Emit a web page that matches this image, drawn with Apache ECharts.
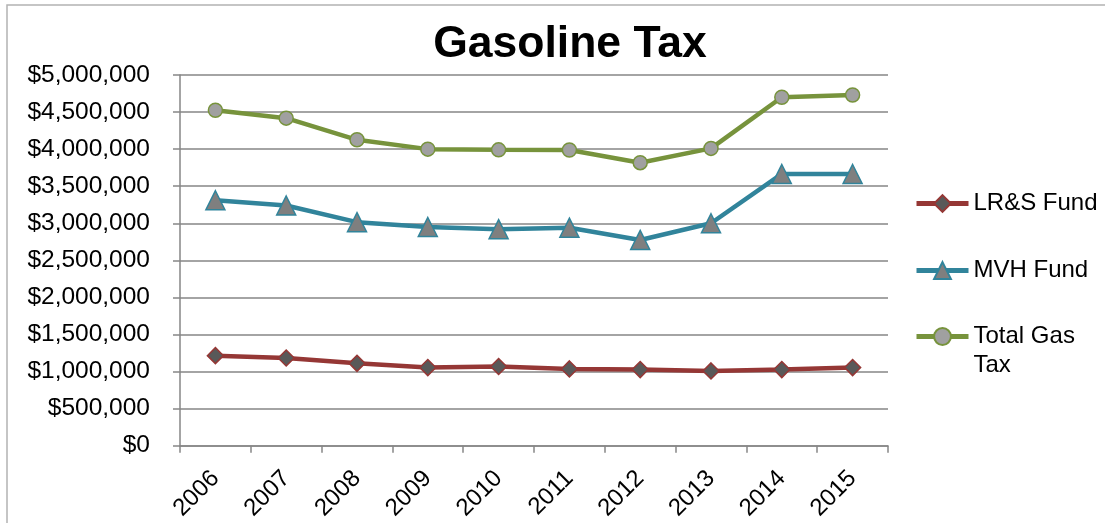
<!DOCTYPE html>
<html>
<head>
<meta charset="utf-8">
<script src="https://cdn.jsdelivr.net/npm/echarts@6/dist/echarts.min.js"></script>
<style>
html,body{margin:0;padding:0;background:#fff;}
#c{width:1105px;height:523px;}
</style>
</head>
<body>
<div id="c"></div>
<script>
var years = ['2006','2007','2008','2009','2010','2011','2012','2013','2014','2015'];
var lrsFund = [1214000, 1183000, 1110000, 1053000, 1068000, 1035000, 1026000, 1008000, 1026000, 1053000];
var mvhFund = [3310000, 3240000, 3015000, 2950000, 2920000, 2940000, 2775000, 3000000, 3665000, 3665000];
var totalGasTax = [4525000, 4418000, 4126000, 4000000, 3990000, 3988000, 3817000, 4010000, 4700000, 4730000];
var yTicks = [0, 500000, 1000000, 1500000, 2000000, 2500000, 3000000, 3500000, 4000000, 4500000, 5000000];

var FONT = '"Liberation Sans", Arial, sans-serif';
var chart = echarts.init(document.getElementById('c'), null, {renderer: 'canvas'});

function money(v) {
  return '$' + String(v).replace(/\B(?=(\d{3})+(?!\d))/g, ',');
}

var legendText = {fontFamily: FONT, fontSize: 24, color: '#000', lineHeight: 29};
function legendBase(name, top) {
  return {
    data: [name], orient: 'vertical', left: 914, top: top, padding: 0,
    itemWidth: 52, itemHeight: 21, itemGap: 0, textStyle: legendText, selectedMode: false,
    lineStyle: {width: 5},
    formatter: function(n){ return n === 'Total Gas Tax' ? ' \nTotal Gas\nTax' : n; }
  };
}

chart.setOption({
  animation: false,
  backgroundColor: '#fff',
  graphic: [{
    type: 'rect',
    shape: {x: 7, y: 5, width: 1200, height: 600},
    style: {fill: 'none', stroke: '#b3b3b3', lineWidth: 1.5},
    silent: true, z: -1
  }],
  title: {
    text: 'Gasoline Tax',
    left: 565, top: 17, textAlign: 'center',
    textStyle: {fontFamily: FONT, fontSize: 44.5, fontWeight: 'bold', color: '#000'}
  },
  legend: [
    legendBase('LR&S Fund', 189),
    legendBase('MVH Fund', 256),
    legendBase('Total Gas Tax', 293)
  ],
  grid: {left: 180, right: 217, top: 75, bottom: 76, containLabel: false},
  xAxis: {
    type: 'category',
    data: years,
    boundaryGap: true,
    axisLine: {show: true, lineStyle: {color: '#868686', width: 1.5}},
    axisTick: {show: true, length: 7, alignWithLabel: false, lineStyle: {color: '#868686', width: 1.5}},
    axisLabel: {rotate: 45, margin: 29, fontFamily: FONT, fontSize: 24, color: '#000'},
    splitLine: {show: false}
  },
  yAxis: {
    type: 'value',
    min: 0, max: 5000000, interval: 500000,
    axisLine: {show: true, lineStyle: {color: '#868686', width: 1.5}},
    axisTick: {show: true, length: 7, lineStyle: {color: '#868686', width: 1.5}},
    axisLabel: {margin: 30, fontFamily: FONT, fontSize: 24.5, color: '#000', formatter: function(v){ return money(v); }},
    splitLine: {show: true, lineStyle: {color: '#868686', width: 1.5}}
  },
  series: [
    {
      name: 'LR&S Fund', type: 'line', data: lrsFund,
      symbol: 'diamond', symbolSize: 16, showAllSymbol: true,
      lineStyle: {color: '#953735', width: 4.5},
      itemStyle: {color: '#595959', borderColor: '#953735', borderWidth: 1.5}
    },
    {
      name: 'MVH Fund', type: 'line', data: mvhFund,
      symbol: 'triangle', symbolSize: 19, showAllSymbol: true,
      lineStyle: {color: '#31849B', width: 4.5},
      itemStyle: {color: '#7f7f7f', borderColor: '#31849B', borderWidth: 1.5}
    },
    {
      name: 'Total Gas Tax', type: 'line', data: totalGasTax,
      symbol: 'circle', symbolSize: 14, showAllSymbol: true,
      lineStyle: {color: '#77933C', width: 4.5},
      itemStyle: {color: '#a0a0a0', borderColor: '#77933C', borderWidth: 1.5}
    }
  ]
});
</script>
</body>
</html>
